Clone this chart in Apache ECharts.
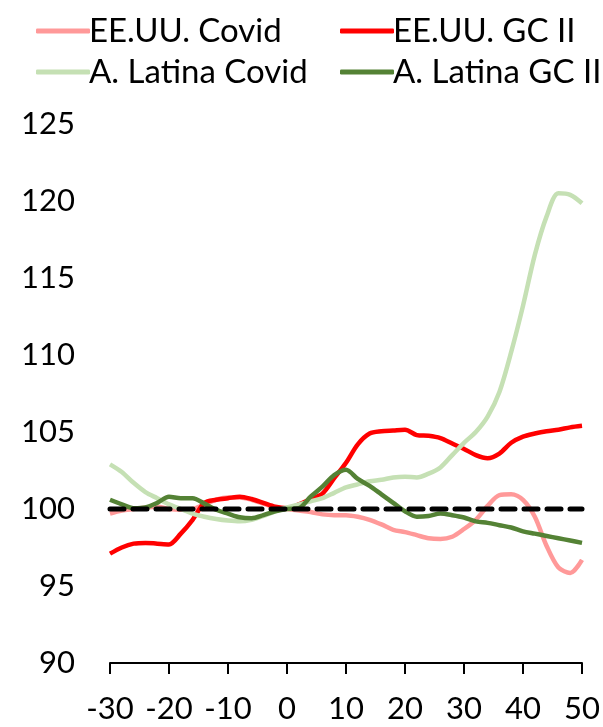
<!DOCTYPE html>
<html>
<head>
<meta charset="utf-8">
<script src="https://cdn.jsdelivr.net/npm/echarts@6/dist/echarts.min.js"></script>
<style>
  html, body { margin: 0; padding: 0; background: #fff; }
  #chart { width: 603px; height: 727px; }
</style>
</head>
<body>
<div id="chart"></div>
<script>
// days relative to event, step 2
const days = [-30, -28, -26, -24, -22, -20, -18, -16, -14, -12, -10, -8, -6, -4, -2, 0,
  2, 4, 6, 8, 10, 12, 14, 16, 18, 20, 22, 24, 26, 28, 30, 32, 34, 36, 38, 40, 42, 44, 46, 48, 50];

const usCovid = [99.7, 99.9, 100.0, 100.1, 100.15, 100.0, 99.95, 100.0, 100.3, 100.6, 100.75, 100.75, 100.6, 100.35, 100.1, 100.0,
  99.9, 99.8, 99.65, 99.6, 99.6, 99.5, 99.3, 99.0, 98.65, 98.5, 98.3, 98.1, 98.05, 98.2, 98.7, 99.3, 100.2, 100.9, 100.95, 100.6, 99.5, 97.6, 96.2, 95.85, 96.7];

const usGC = [97.1, 97.5, 97.75, 97.8, 97.75, 97.7, 98.4, 99.3, 100.4, 100.6, 100.7, 100.8, 100.65, 100.4, 100.15, 100.05,
  100.3, 100.65, 101.0, 102.0, 103.0, 104.2, 104.9, 105.05, 105.1, 105.15, 104.8, 104.75, 104.6, 104.25, 103.9, 103.5, 103.3, 103.6, 104.3, 104.7, 104.9, 105.05, 105.15, 105.3, 105.4];

const latamCovid = [102.9, 102.4, 101.7, 101.1, 100.7, 100.3, 100.0, 99.7, 99.5, 99.35, 99.25, 99.2, 99.3, 99.55, 99.85, 100.1,
  100.3, 100.5, 100.7, 101.05, 101.4, 101.6, 101.8, 101.9, 102.05, 102.1, 102.05, 102.3, 102.7, 103.5, 104.3, 105.0, 106.0, 107.6, 110.2, 113.2, 116.5, 119.0, 120.5, 120.4, 119.85];

const latamGC = [100.6, 100.3, 100.05, 100.1, 100.4, 100.8, 100.7, 100.7, 100.35, 99.95, 99.7, 99.46, 99.4, 99.6, 99.85, 100.0,
  100.05, 100.8, 101.45, 102.2, 102.55, 101.95, 101.5, 100.95, 100.4, 99.85, 99.5, 99.55, 99.7, 99.6, 99.45, 99.2, 99.1, 98.95, 98.8, 98.55, 98.4, 98.25, 98.1, 97.95, 97.8];

const baseline = days.map(() => 100);

const FONT = 'Lato';

const chart = echarts.init(document.getElementById('chart'));

const pair = (arr) => days.map((d, i) => [d, arr[i]]);

const lineSeries = (name, data, color) => ({
  name,
  type: 'line',
  data: pair(data),
  showSymbol: false,
  symbol: 'none',
  smooth: 0.3,
  color,
  lineStyle: { color, width: 4.5 },
  animation: false
});

const legendBase = {
  orient: 'vertical',
  top: 8,
  icon: 'roundRect',
  itemWidth: 54,
  itemHeight: 5,
  itemGap: 5,
  textStyle: { fontFamily: FONT, fontSize: 33, color: '#000', padding: [0, 0, 0, -6], lineHeight: 36 }
};

chart.setOption({
  animation: false,
  legend: [
    Object.assign({}, legendBase, { left: 31, data: ['EE.UU. Covid', 'A. Latina Covid'] }),
    Object.assign({}, legendBase, { left: 335, data: ['EE.UU. GC II', 'A. Latina GC II'] })
  ],
  grid: { left: 110, right: 15, top: 124, bottom: 64 },
  xAxis: {
    type: 'value',
    min: -30,
    max: 50,
    interval: 10,
    splitLine: { show: false },
    axisLine: { show: true, lineStyle: { color: '#000', width: 2 } },
    axisTick: { show: true, length: 11, lineStyle: { color: '#000', width: 2 } },
    axisLabel: { fontFamily: FONT, fontSize: 31, color: '#000', margin: 30 }
  },
  yAxis: {
    type: 'value',
    min: 90,
    max: 125,
    interval: 5,
    splitLine: { show: false },
    axisLine: { show: false },
    axisTick: { show: false },
    axisLabel: { fontFamily: FONT, fontSize: 31, color: '#000', margin: 35 }
  },
  series: [
    lineSeries('EE.UU. Covid', usCovid, '#FF9999'),
    lineSeries('EE.UU. GC II', usGC, '#FF0000'),
    lineSeries('A. Latina Covid', latamCovid, '#C5E0B4'),
    lineSeries('A. Latina GC II', latamGC, '#548235'),
    {
      name: 'base',
      type: 'line',
      data: pair(baseline),
      showSymbol: false,
      symbol: 'none',
      lineStyle: { color: '#000', width: 5, type: [14, 9], cap: 'round' },
      silent: true
    }
  ]
});
</script>
</body>
</html>
